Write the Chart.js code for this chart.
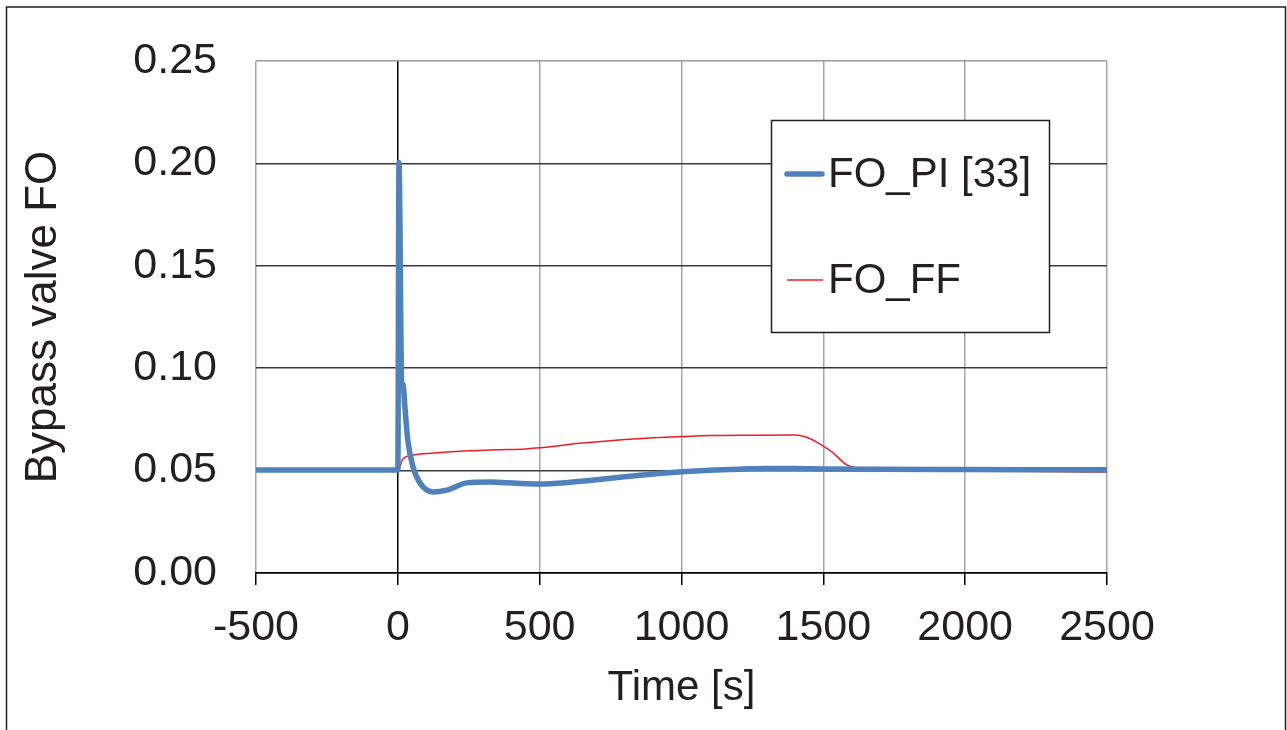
<!DOCTYPE html>
<html>
<head>
<meta charset="utf-8">
<script src="https://cdn.jsdelivr.net/npm/chart.js@4.4.1/dist/chart.umd.min.js"></script>
<style>
  html, body { margin: 0; padding: 0; background: #fff; }
  #wrap { width: 1287px; height: 730px; }
</style>
</head>
<body>
<div id="wrap"><canvas id="chart" width="1287" height="730"></canvas></div>
<script>
// FO_PI [33] (PI controller output)
const piTime = [-500, 0, 4, 14, 18, 25, 35, 53, 78, 123, 173, 243, 324, 420, 500, 600, 700, 800, 900, 1000, 1100, 1200, 1300, 1400, 1500, 1700, 2000, 2500];
const piValue = [0.0503, 0.0503, 0.2005, 0.090, 0.092, 0.081, 0.065, 0.052, 0.044, 0.0396, 0.0405, 0.044, 0.0444, 0.0438, 0.0435, 0.0442, 0.0455, 0.047, 0.0483, 0.0494, 0.0502, 0.0507, 0.051, 0.051, 0.0508, 0.0506, 0.0505, 0.0504];

// FO_FF (feed-forward output)
const ffTime = [-500, 0, 5, 15, 30, 60, 150, 250, 350, 450, 500, 640, 780, 900, 1000, 1100, 1250, 1400, 1450, 1490, 1535, 1580, 1610, 1700, 1900, 2100, 2300, 2500];
const ffValue = [0.0498, 0.0498, 0.051, 0.055, 0.0568, 0.0577, 0.0588, 0.0597, 0.0602, 0.0606, 0.0611, 0.0633, 0.065, 0.0661, 0.0666, 0.0671, 0.0673, 0.0674, 0.0658, 0.0628, 0.0586, 0.053, 0.0515, 0.0507, 0.0502, 0.0498, 0.0495, 0.0493];

const seriesLabels = ['FO_PI [33]', 'FO_FF'];
const xTicks = [-500, 0, 500, 1000, 1500, 2000, 2500];
const yTicks = [0.00, 0.05, 0.10, 0.15, 0.20, 0.25];

const TEXT = '#231f20';
const FONT = '"Liberation Sans", Arial, sans-serif';
const BLUE = '#4f81bd';
const RED = '#ee1c25';

const toPoints = (xs, ys) => xs.map((x, i) => ({ x: x, y: ys[i] }));

// white page with thin outer frame
const framePlugin = {
    id: 'frame',
    beforeDraw(chart) {
        const { ctx } = chart;
        ctx.save();
        ctx.fillStyle = '#fff';
        ctx.fillRect(0, 0, chart.width, chart.height);
        ctx.strokeStyle = TEXT;
        ctx.lineWidth = 1.5;
        ctx.strokeRect(6.5, 7, 1279, 760);
        ctx.restore();
    }
};

// boxed legend inside the plot area
const boxLegendPlugin = {
    id: 'boxLegend',
    afterDatasetsDraw(chart) {
        const { ctx } = chart;
        const box = { x: 771.5, y: 120.5, w: 278, h: 212 };
        ctx.save();
        ctx.fillStyle = '#fff';
        ctx.fillRect(box.x, box.y, box.w, box.h);
        ctx.strokeStyle = TEXT;
        ctx.lineWidth = 1.5;
        ctx.strokeRect(box.x, box.y, box.w, box.h);

        const rows = [175, 281];
        chart.data.datasets.forEach((ds, i) => {
            const y = rows[i];
            ctx.beginPath();
            ctx.strokeStyle = ds.borderColor;
            ctx.lineWidth = ds.borderWidth;
            ctx.lineCap = i === 0 ? 'round' : 'butt';
            ctx.moveTo(787, y - 1);
            ctx.lineTo(i === 0 ? 822 : 823, y - 1);
            ctx.stroke();
            ctx.fillStyle = TEXT;
            ctx.font = '42px ' + FONT;
            ctx.textBaseline = 'middle';
            ctx.textAlign = 'left';
            ctx.fillText(ds.label, 828, y);
        });
        ctx.restore();
    }
};

const ctx = document.getElementById('chart').getContext('2d');
new Chart(ctx, {
    type: 'line',
    data: {
        datasets: [
            {
                label: seriesLabels[0],
                data: toPoints(piTime, piValue),
                borderColor: BLUE,
                borderWidth: 5.5,
                pointRadius: 0,
                cubicInterpolationMode: 'monotone',
                borderJoinStyle: 'round',
                borderCapStyle: 'round'
            },
            {
                label: seriesLabels[1],
                data: toPoints(ffTime, ffValue),
                borderColor: RED,
                borderWidth: 1.5,
                pointRadius: 0,
                cubicInterpolationMode: 'monotone'
            }
        ]
    },
    options: {
        responsive: false,
        animation: false,
        layout: { padding: { left: 10, right: 180, top: 61, bottom: 0 } },
        plugins: {
            legend: { display: false },
            tooltip: { enabled: false }
        },
        scales: {
            x: {
                type: 'linear',
                min: -500,
                max: 2500,
                afterBuildTicks: axis => { axis.ticks = xTicks.map(v => ({ value: v })); },
                afterFit: axis => { axis.height = 157; },
                ticks: {
                    color: TEXT,
                    font: { family: FONT, size: 43 },
                    padding: 17,
                    maxRotation: 0,
                    callback: v => String(v)
                },
                grid: {
                    color: c => c.tick && c.tick.value === 0 ? '#000' : '#a6a6a6',
                    lineWidth: 1.5,
                    tickLength: 12,
                    tickColor: '#000'
                },
                border: { display: true, color: '#000', width: 1.5 },
                title: {
                    display: true,
                    text: 'Time [s]',
                    color: TEXT,
                    font: { family: FONT, size: 42 },
                    padding: { top: 0, bottom: 16 }
                }
            },
            y: {
                min: 0,
                max: 0.25,
                afterBuildTicks: axis => { axis.ticks = yTicks.map(v => ({ value: v })); },
                afterFit: axis => { axis.width = 246; },
                ticks: {
                    color: TEXT,
                    font: { family: FONT, size: 43 },
                    padding: 0,
                    callback: v => Number(v).toFixed(2)
                },
                grid: {
                    color: c => {
                        if (!c.tick) return '#3a3a3a';
                        if (Math.abs(c.tick.value - 0.25) < 1e-9) return '#9a9a9a';
                        if (c.tick.value === 0) return '#000';
                        return '#3a3a3a';
                    },
                    lineWidth: 1.5,
                    drawTicks: true,
                    tickLength: 39,
                    tickColor: 'rgba(0,0,0,0)'
                },
                border: { display: false },
                title: {
                    display: true,
                    text: 'Bypass valve FO',
                    color: TEXT,
                    font: { family: FONT, size: 44 },
                    padding: { top: 7, bottom: 0 }
                }
            }
        }
    },
    plugins: [framePlugin, boxLegendPlugin]
});
</script>
</body>
</html>
